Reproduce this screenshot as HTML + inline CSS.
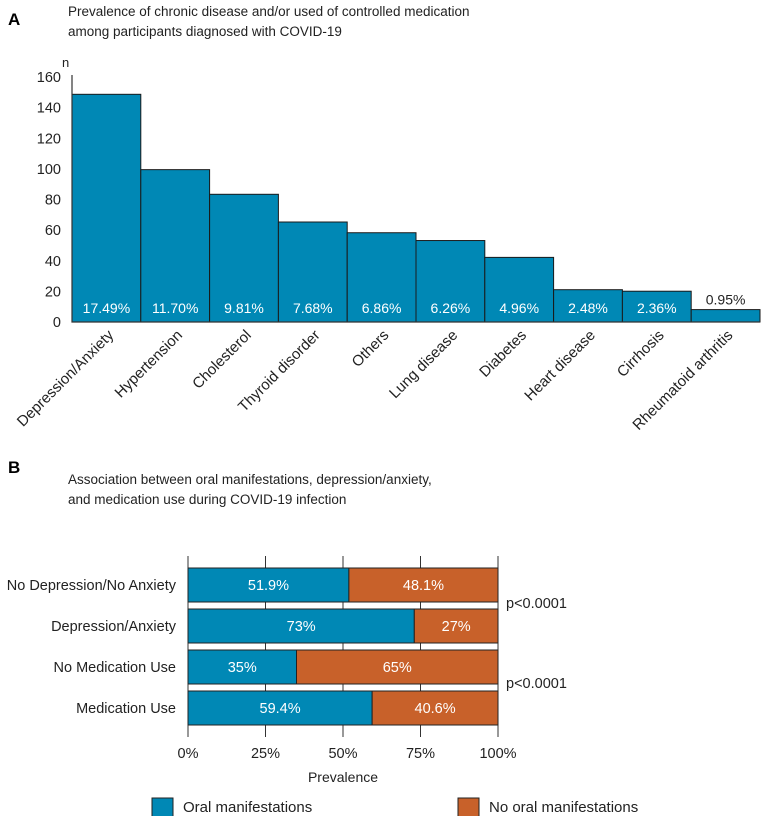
<!DOCTYPE html>
<html><head><meta charset="utf-8">
<style>
html,body{margin:0;padding:0;background:#fff;}
svg{display:block;font-family:"Liberation Sans",sans-serif;}
</style></head>
<body>
<svg id="chart" width="761" height="816" viewBox="0 0 761 816">
  <text x="8" y="25" font-size="17" font-weight="bold" fill="#000">A</text>
  <text x="68" y="16" font-size="13.5" fill="#222">Prevalence of chronic disease and/or used of controlled medication</text>
  <text x="68" y="36" font-size="13.5" fill="#222">among participants diagnosed with COVID-19</text>
  <text x="62" y="67" font-size="13" fill="#222">n</text>
  <g id="gA"></g>
  <text x="8" y="473" font-size="17" font-weight="bold" fill="#000">B</text>
  <text x="68" y="484" font-size="13.5" fill="#222">Association between oral manifestations, depression/anxiety,</text>
  <text x="68" y="504" font-size="13.5" fill="#222">and medication use during COVID-19 infection</text>
  <g id="gB"></g>
  <text x="343" y="782" font-size="14" fill="#222" text-anchor="middle">Prevalence</text>
  <rect x="152" y="798" width="21" height="19" fill="#0088b5" stroke="#222"/>
  <text x="183" y="812" font-size="15" fill="#222">Oral manifestations</text>
  <rect x="458" y="798" width="21" height="19" fill="#c8612a" stroke="#222"/>
  <text x="489" y="812" font-size="15" fill="#222">No oral manifestations</text>
</svg>
<script>
const categoriesA = ["Depression/Anxiety","Hypertension","Cholesterol","Thyroid disorder","Others","Lung disease","Diabetes","Heart disease","Cirrhosis","Rheumatoid arthritis"];
const countsA = [148.7,99.5,83.4,65.3,58.3,53.2,42.2,21.1,20.1,8.1];
const pctLabelsA = ["17.49%","11.70%","9.81%","7.68%","6.86%","6.26%","4.96%","2.48%","2.36%","0.95%"];
const yTicksA = [0,20,40,60,80,100,120,140,160];

const categoriesB = ["No Depression/No Anxiety","Depression/Anxiety","No Medication Use","Medication Use"];
const oralB = [51.9,73,35,59.4];
const noOralB = [48.1,27,65,40.6];
const oralLabelsB = ["51.9%","73%","35%","59.4%"];
const noOralLabelsB = ["48.1%","27%","65%","40.6%"];
const xTicksB = [0,25,50,75,100];
const pValues = ["p<0.0001","p<0.0001"];

const NS = "http://www.w3.org/2000/svg";
function mk(parent, tag, attrs, text){
  const e = document.createElementNS(NS, tag);
  for (const k in attrs) e.setAttribute(k, attrs[k]);
  if (text !== undefined) e.textContent = text;
  parent.appendChild(e);
  return e;
}
// Chart A
const gA = document.getElementById('gA');
const aX0 = 72, aX1 = 760, aY0 = 322, aYtop = 77, aMax = 160;
const yA = v => aY0 - (v / aMax) * (aY0 - aYtop);
const bw = (aX1 - aX0) / categoriesA.length;
const xA = i => aX0 + i * bw;
yTicksA.forEach(t => {
  const el = mk(gA, 'text', {x: 61, y: yA(t) + 5, 'font-size': 14.5, fill: '#222', 'text-anchor': 'end'}, String(t));
  
  
});
categoriesA.forEach((c, i) => {
  const r = mk(gA, 'rect', {x: xA(i), y: yA(countsA[i]), width: bw, height: aY0 - yA(countsA[i]), fill: '#0088b5', stroke: '#1a1a1a', 'stroke-width': 1});
  
  
  const inside = countsA[i] > 15;
  const cx = xA(i) + bw / 2;
  const pl = mk(gA, 'text', {x: cx, y: inside ? 313 : yA(countsA[i]) - 5, 'font-size': 14, fill: inside ? '#fff' : '#222', 'text-anchor': 'middle'}, pctLabelsA[i]);
  
  
  const lx = cx + 8, ly = 336;
  const cl = mk(gA, 'text', {x: lx, y: ly, 'font-size': 15, fill: '#222', 'text-anchor': 'end', transform: `rotate(-45 ${lx} ${ly})`}, c);
  
  
});
const axA = mk(gA, 'path', {d: `M${aX0} ${aYtop - 2} V${aY0} H${aX1}`, fill: 'none', stroke: '#333', 'stroke-width': 1.2});



// Chart B
const gB = document.getElementById('gB');
const bX0 = 188, bX1 = 498;
const xB = v => bX0 + (v / 100) * (bX1 - bX0);
const rowTop = [568, 609, 650, 691], rowH = 34;
xTicksB.forEach(t => {
  const l = mk(gB, 'line', {x1: xB(t), x2: xB(t), y1: 556, y2: 737, stroke: '#333', 'stroke-width': 1});
  
  
  const tl = mk(gB, 'text', {x: xB(t), y: 758, 'font-size': 14.5, fill: '#222', 'text-anchor': 'middle'}, t + '%');
  
  
});
categoriesB.forEach((c, i) => {
  const y = rowTop[i];
  const r1 = mk(gB, 'rect', {x: xB(0), y: y, width: xB(oralB[i]) - xB(0), height: rowH, fill: '#0088b5', stroke: '#222'});
  
  
  const r2 = mk(gB, 'rect', {x: xB(oralB[i]), y: y, width: xB(oralB[i] + noOralB[i]) - xB(oralB[i]), height: rowH, fill: '#c8612a', stroke: '#222'});
  
  
  const t1 = mk(gB, 'text', {x: (xB(0) + xB(oralB[i])) / 2, y: y + 22, 'font-size': 14.5, fill: '#fff', 'text-anchor': 'middle'}, oralLabelsB[i]);
  
  
  const t2 = mk(gB, 'text', {x: (xB(oralB[i]) + xB(oralB[i] + noOralB[i])) / 2, y: y + 22, 'font-size': 14.5, fill: '#fff', 'text-anchor': 'middle'}, noOralLabelsB[i]);
  
  
  const cl = mk(gB, 'text', {x: 176, y: y + 22, 'font-size': 14.5, fill: '#222', 'text-anchor': 'end'}, c);
  
  
});
pValues.forEach((p, k) => {
  const pt = mk(gB, 'text', {x: 506, y: 608 + k * 80, 'font-size': 14.5, fill: '#222'}, p);
  
  
});
</script>
</body></html>
